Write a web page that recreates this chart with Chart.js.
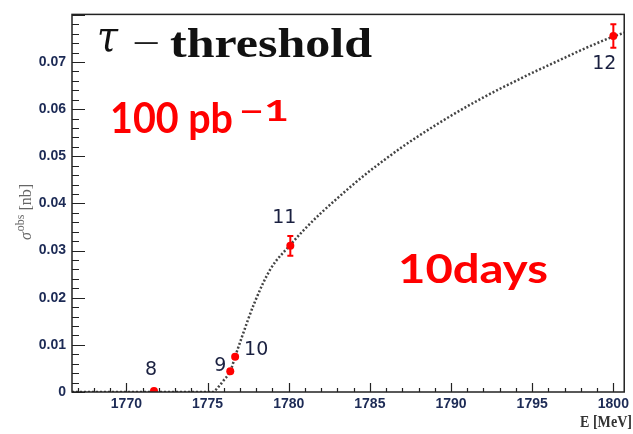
<!DOCTYPE html>
<html>
<head>
<meta charset="utf-8">
<script src="https://cdn.jsdelivr.net/npm/chart.js@4.4.0/dist/chart.umd.min.js"></script>
<style>
  html, body { margin: 0; padding: 0; background: #fff; }
  #wrap { width: 633px; height: 434px; position: relative; }
</style>
</head>
<body>
<div id="wrap"><canvas id="chart"></canvas></div>
<script>
// measured points (scan points 8..12)
const energies = [1771.7, 1776.4, 1776.7, 1780.1, 1800.0];
const sigma = [0.0002, 0.0044, 0.0075, 0.0310, 0.0755];
const sigmaErr = [0, 0, 0, 0.0021, 0.0025];
const pointLabels = ["8", "9", "10", "11", "12"];

// dotted expectation curve
const curveE = [1766.65, 1775.3, 1775.7, 1776.0, 1776.4, 1776.7, 1777.1, 1777.9, 1778.9, 1780.1,
    1781, 1782, 1783, 1784, 1785, 1786, 1787, 1788, 1789, 1790,
    1791, 1792, 1793, 1794, 1795, 1796, 1797, 1798, 1799, 1800, 1800.67];
const curveSigma = [0, 0, 0.0012, 0.0025, 0.0044, 0.0075, 0.0115, 0.0190, 0.0262, 0.0312,
    0.0346, 0.0380, 0.0411, 0.0441, 0.0469, 0.0495, 0.0520, 0.0543, 0.0565, 0.0586,
    0.0606, 0.0625, 0.0643, 0.0660, 0.0677, 0.0693, 0.0709, 0.0725, 0.0740, 0.0754, 0.0762];

const xRange = [1766.65, 1800.67];
const yRange = [0, 0.0801];

const navy = "#1c2a55";
const labelOffsets = [[-3, -21], [-10, -5], [21, -7], [-6, -28], [-9, 28]];

function fitText(ctx, text, x, y, width, font, color, align) {
    ctx.save();
    ctx.font = font;
    ctx.fillStyle = color;
    ctx.textBaseline = "alphabetic";
    const w = ctx.measureText(text).width;
    const sx = width / w;
    ctx.translate(x, y);
    ctx.scale(sx, 1);
    ctx.textAlign = "left";
    let startX = 0;
    if (align === "center") startX = -w / 2;
    if (align === "right") startX = -w;
    ctx.fillText(text, startX, 0);
    ctx.restore();
}

// ROOT-style frame, inward ticks, error bars, labels
const decorations = {
    id: "decorations",
    afterDatasetsDraw(chart) {
        const ctx = chart.ctx;
        const xs = chart.scales.x, ys = chart.scales.y;
        const a = chart.chartArea;

        // error bars
        ctx.save();
        ctx.strokeStyle = "#ff0000";
        ctx.lineWidth = 2;
        for (let i = 0; i < energies.length; i++) {
            if (!sigmaErr[i]) continue;
            const px = xs.getPixelForValue(energies[i]);
            const y1 = ys.getPixelForValue(sigma[i] - sigmaErr[i]);
            const y2 = ys.getPixelForValue(sigma[i] + sigmaErr[i]);
            ctx.beginPath();
            ctx.moveTo(px, y1); ctx.lineTo(px, y2);
            ctx.moveTo(px - 3, y1); ctx.lineTo(px + 3, y1);
            ctx.moveTo(px - 3, y2); ctx.lineTo(px + 3, y2);
            ctx.stroke();
        }
        ctx.restore();

        // frame
        ctx.save();
        ctx.strokeStyle = "#222";
        ctx.lineWidth = 1.5;
        ctx.strokeRect(a.left, a.top, a.right - a.left, a.bottom - a.top);

        // ticks
        ctx.lineWidth = 1.2;
        ctx.beginPath();
        for (let v = Math.ceil(xRange[0]); v <= xRange[1]; v++) {
            const px = Math.round(xs.getPixelForValue(v)) + 0.5;
            const len = v % 5 === 0 ? 9 : 4;
            ctx.moveTo(px, a.bottom);
            ctx.lineTo(px, a.bottom - len);
        }
        for (let i = 0; i <= 40; i++) {
            const py = Math.round(ys.getPixelForValue(i * 0.002)) + 0.5;
            const len = i % 5 === 0 ? 13 : 7;
            ctx.moveTo(a.left, py);
            ctx.lineTo(a.left + len, py);
        }
        ctx.stroke();
        ctx.restore();

        // point labels
        ctx.save();
        ctx.font = "19px 'DejaVu Sans'";
        ctx.fillStyle = "#1a2040";
        ctx.textAlign = "center";
        ctx.textBaseline = "middle";
        for (let i = 0; i < energies.length; i++) {
            const px = xs.getPixelForValue(energies[i]);
            const py = ys.getPixelForValue(sigma[i]);
            ctx.fillText(pointLabels[i], px + labelOffsets[i][0], py + labelOffsets[i][1]);
        }
        ctx.restore();
    },
    afterDraw(chart) {
        const ctx = chart.ctx;

        // title
        fitText(ctx, "τ", 97, 51, 21, "italic 42px 'DejaVu Serif'", "#111", "left");
        fitText(ctx, "−", 132, 55, 28, "36px 'Liberation Serif'", "#111", "left");
        fitText(ctx, "threshold", 170, 57, 202, "bold 42px 'Liberation Serif'", "#111", "left");

        // red annotations
        fitText(ctx, "100 pb", 110, 133, 123, "bold 42px Lato", "#ff0000", "left");
        fitText(ctx, "−1", 239, 121, 50, "bold 28px Lato", "#ff0000", "left");
        fitText(ctx, "10days", 398, 283, 150, "bold 40px Lato", "#ff0000", "left");

        // axis titles
        fitText(ctx, "E [MeV]", 632, 427, 52, "bold 17px 'Liberation Serif'", "#333", "right");

        ctx.save();
        ctx.translate(26, 212);
        ctx.rotate(-Math.PI / 2);
        ctx.fillStyle = "#666";
        ctx.textBaseline = "alphabetic";
        ctx.font = "italic 16px 'Liberation Serif'";
        const w1 = ctx.measureText("σ").width;
        ctx.font = "12px 'Liberation Serif'";
        const w2 = ctx.measureText("obs").width;
        ctx.font = "16px 'Liberation Serif'";
        const w3 = ctx.measureText(" [nb]").width;
        let x0 = -(w1 + w2 + w3 + 1) / 2;
        ctx.font = "italic 16px 'Liberation Serif'";
        ctx.fillText("σ", x0, 5);
        ctx.font = "12px 'Liberation Serif'";
        ctx.fillText("obs", x0 + w1 + 1, -2);
        ctx.font = "16px 'Liberation Serif'";
        ctx.fillText(" [nb]", x0 + w1 + 1 + w2, 5);
        ctx.restore();
    }
};

const tickFont = { family: "'Liberation Sans', Arial, sans-serif", size: 14, weight: "bold" };

const config = {
    type: "scatter",
    data: {
        datasets: [
            {
                label: "expected",
                data: curveE.map((e, i) => ({ x: e, y: curveSigma[i] })),
                showLine: true,
                borderColor: "#444",
                borderWidth: 2.5,
                borderDash: [2, 2],
                pointRadius: 0,
                cubicInterpolationMode: "monotone",
                order: 2
            },
            {
                label: "points",
                data: energies.map((e, i) => ({ x: e, y: sigma[i] })),
                showLine: false,
                backgroundColor: "#ff0000",
                borderColor: "#ff0000",
                pointRadius: 4,
                pointBorderWidth: 0,
                order: 1
            }
        ]
    },
    options: {
        responsive: true,
        maintainAspectRatio: false,
        animation: false,
        devicePixelRatio: 1,
        layout: { padding: { left: 0, top: 10, right: 3, bottom: 0 } },
        plugins: {
            legend: { display: false },
            tooltip: { enabled: false },
            title: { display: false }
        },
        scales: {
            x: {
                type: "linear",
                min: xRange[0],
                max: xRange[1],
                grid: { display: false, drawTicks: false },
                border: { display: false },
                ticks: {
                    stepSize: 5,
                    includeBounds: false,
                    padding: 4,
                    font: tickFont,
                    color: navy,
                    maxRotation: 0,
                    callback: (v) => String(v)
                },
                afterFit: (scale) => { scale.height = 42; }
            },
            y: {
                type: "linear",
                min: yRange[0],
                max: yRange[1],
                grid: { display: false, drawTicks: false },
                border: { display: false },
                ticks: {
                    stepSize: 0.01,
                    includeBounds: false,
                    padding: 6,
                    font: tickFont,
                    color: navy,
                    callback: (v) => (v === 0 ? "0" : (v > 0.075 ? "" : v.toFixed(2)))
                },
                afterFit: (scale) => { scale.width = 72; }
            }
        }
    },
    plugins: [decorations]
};

const sigmaChart = new Chart(document.getElementById("chart"), config);
</script>
</body>
</html>
